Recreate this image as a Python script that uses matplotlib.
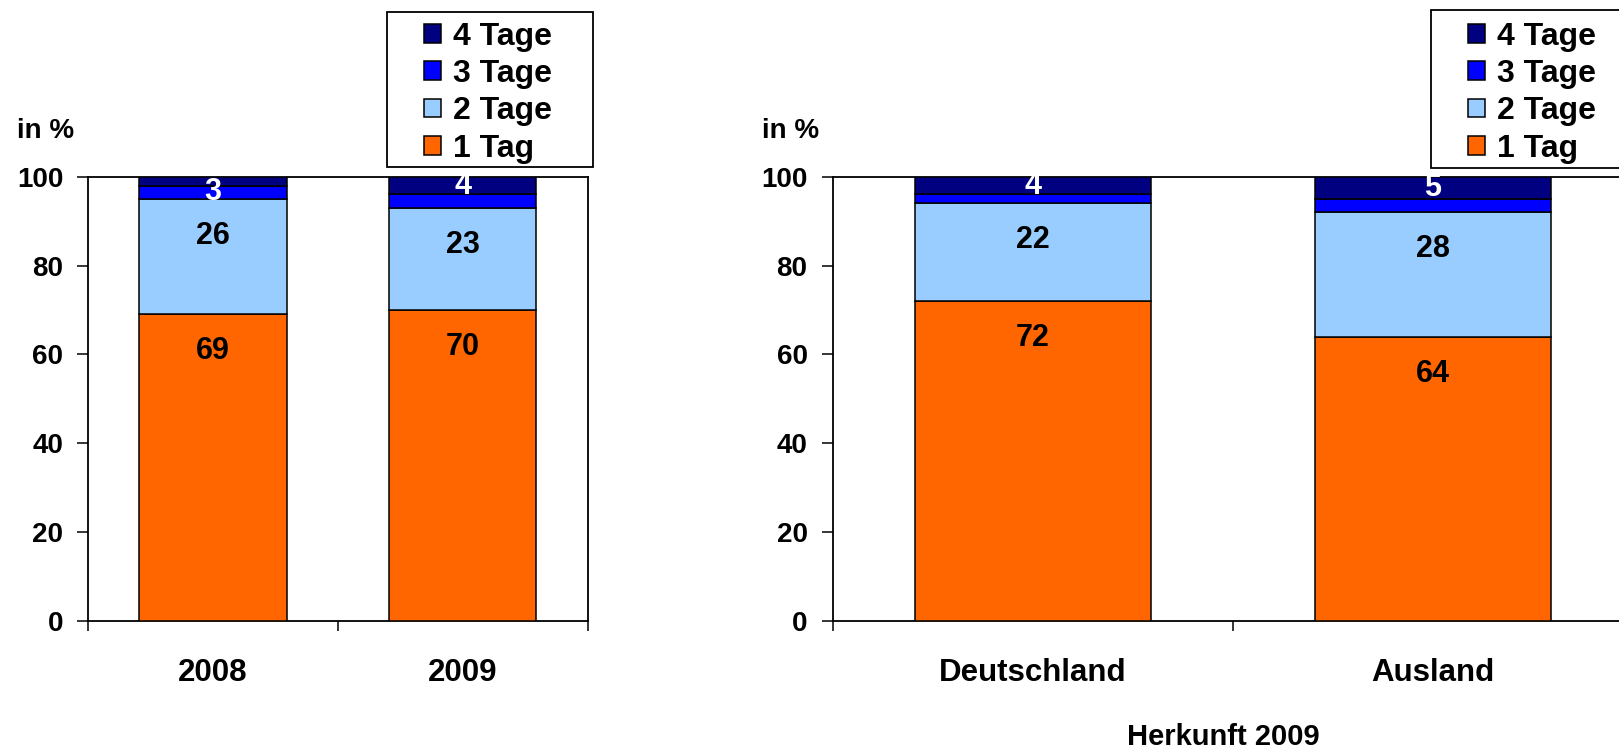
import matplotlib
matplotlib.use("Agg")
import matplotlib.pyplot as plt
from matplotlib.patches import Rectangle, Patch
import numpy as np

plt.rcParams['font.family'] = ['Liberation Sans', 'DejaVu Sans']
plt.rcParams['font.weight'] = 'bold'

# ---- data ----
series = ['1 Tag', '2 Tage', '3 Tage', '4 Tage']
colors = ['#FF6600', '#99CCFF', '#0000FF', '#000080']

cats_left = ['2008', '2009']
left_vals = {
    '1 Tag': [69, 70],
    '2 Tage': [26, 23],
    '3 Tage': [3, 3],
    '4 Tage': [2, 4],
}
left_show = {
    '1 Tag': [True, True],
    '2 Tage': [True, True],
    '3 Tage': [True, False],
    '4 Tage': [False, True],
}

cats_right = ['Deutschland', 'Ausland']
right_vals = {
    '1 Tag': [72, 64],
    '2 Tage': [22, 28],
    '3 Tage': [2, 3],
    '4 Tage': [4, 5],
}
right_show = {
    '1 Tag': [True, True],
    '2 Tage': [True, True],
    '3 Tage': [False, False],
    '4 Tage': [True, True],
}
yticks = [0, 20, 40, 60, 80, 100]
xlabel_right = 'Herkunft 2009'

W, H = 1619, 749
fig = plt.figure(figsize=(W / 100, H / 100), dpi=100)


def fx(x):
    return x / W


def fy(y):
    return 1 - y / H


def draw_panel(ax, cats, vals, show):
    n = len(cats)
    x = np.arange(n) + 0.5
    bottom = np.zeros(n)
    for s, c in zip(series, colors):
        v = np.array(vals[s], dtype=float)
        ax.bar(x, v, width=0.59, bottom=bottom, color=c, edgecolor='black',
               linewidth=1.1, zorder=3)
        top = bottom + v
        for i in range(n):
            if not show[s][i]:
                continue
            if v[i] >= 10:
                ypos = top[i] - 8.3
                col = 'black'
            else:
                ypos = bottom[i] + v[i] / 2
                col = 'white'
            ax.text(x[i], ypos, f"{int(v[i])}", ha='center', va='center',
                    fontsize=22, fontweight='bold', color=col, zorder=5)
        bottom = top
    ax.set_xlim(0, n)
    ax.set_ylim(0, 100)
    ax.set_yticks(yticks)
    ax.set_yticklabels([str(t) for t in yticks], fontsize=20, fontweight='bold')
    ax.set_xticks(np.arange(n + 1))
    ax.set_xticklabels([])
    ax.set_xticks(x, minor=True)
    ax.set_xticklabels(cats, minor=True, fontsize=22.5, fontweight='bold')
    ax.tick_params(axis='y', direction='out', length=8, width=1.1, pad=10)
    ax.tick_params(axis='x', which='major', direction='out', length=7.5, width=1.1)
    ax.tick_params(axis='x', which='minor', length=0, pad=26.5)
    for sp in ax.spines.values():
        sp.set_linewidth(1.3)
        sp.set_color('black')


axL = fig.add_axes([fx(88.3), fy(621), (587.5 - 88.3) / W, 444.3 / H])
draw_panel(axL, cats_left, left_vals, left_show)

axR = fig.add_axes([fx(832.5), fy(621), 800 / W, 444.3 / H])
draw_panel(axR, cats_right, right_vals, right_show)

# y-axis unit labels
fig.text(fx(16.7), fy(131.5), 'in %', ha='left', va='center', fontsize=20,
         fontweight='bold')
fig.text(fx(761.7), fy(131.5), 'in %', ha='left', va='center', fontsize=20,
         fontweight='bold')

# x title for right panel
fig.text(fx(1223), fy(737), xlabel_right, ha='center', va='center',
         fontsize=21, fontweight='bold')

# legends
handles = [Patch(facecolor=c, edgecolor='black', linewidth=1.1)
           for c in colors][::-1]
labels = series[::-1]


def add_legend(x0, y0, x1, y1, first_row_top):
    fig.patches.append(Rectangle((fx(x0), fy(y1)), (x1 - x0) / W, (y1 - y0) / H,
                                 transform=fig.transFigure, facecolor='white',
                                 edgecolor='black', linewidth=1.3, zorder=10))
    leg = fig.legend(handles, labels, loc='upper left',
                     bbox_to_anchor=(fx(x0 + 37.6), fy(first_row_top)),
                     bbox_transform=fig.transFigure, frameon=False,
                     borderpad=0, borderaxespad=0, handlelength=0.53,
                     handleheight=0.53, handletextpad=0.38, labelspacing=0.23,
                     prop={'size': 23, 'weight': 'bold'})
    leg.set_zorder(11)


add_legend(386.7, 11.7, 592.7, 167.3, 21.7)
add_legend(1430.7, 10, 1636.7, 167.7, 21.7)

fig.savefig('out.png', dpi=100)
